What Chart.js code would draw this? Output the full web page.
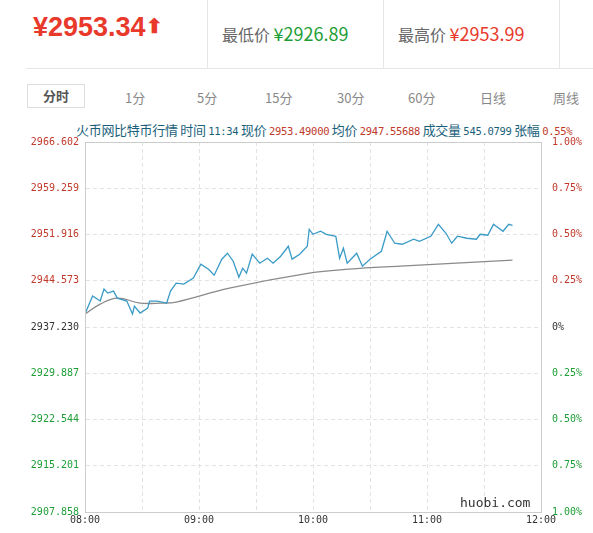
<!DOCTYPE html>
<html><head><meta charset="utf-8">
<script src="https://cdn.jsdelivr.net/npm/chart.js@4"></script>
<style>
body{margin:0;width:593px;height:533px;background:#fff;font-family:"Microsoft YaHei","Noto Sans CJK SC",sans-serif;position:relative;overflow:hidden}
.a{position:absolute;white-space:nowrap}
</style></head><body>
<div class="a" style="left:33px;top:12px;font-size:27px;font-weight:bold;color:#e8392b;font-family:Arial,'Liberation Sans',sans-serif">¥2953.34<span style="font-size:20px;position:relative;top:-3px">&#x2B06;</span></div>
<div class="a" style="left:207px;top:0;width:1px;height:68px;background:#e6e6e6"></div>
<div class="a" style="left:222px;top:20px;font-size:16px;color:#666">最低价 <span style="color:#1e9e36;font-size:18px">¥2926.89</span></div>
<div class="a" style="left:383px;top:0;width:1px;height:68px;background:#e6e6e6"></div>
<div class="a" style="left:398px;top:20px;font-size:16px;color:#666">最高价 <span style="color:#e8392b;font-size:18px">¥2953.99</span></div>
<div class="a" style="left:559px;top:0;width:1px;height:68px;background:#e6e6e6"></div>
<div class="a" style="left:26px;top:68px;width:567px;height:1px;background:#e6e6e6"></div>
<div class="a" style="left:27px;top:84px;width:56px;height:22px;border:1px solid #ddd;font-size:13px;font-weight:bold;color:#555;text-align:center;line-height:22px">分时</div>
<div class="a" style="left:125px;top:88px;font-size:13px;color:#888">1分</div>
<div class="a" style="left:197px;top:88px;font-size:13px;color:#888">5分</div>
<div class="a" style="left:265px;top:88px;font-size:13px;color:#888">15分</div>
<div class="a" style="left:337px;top:88px;font-size:13px;color:#888">30分</div>
<div class="a" style="left:408px;top:88px;font-size:13px;color:#888">60分</div>
<div class="a" style="left:480px;top:88px;font-size:13px;color:#888">日线</div>
<div class="a" style="left:553px;top:88px;font-size:13px;color:#888">周线</div>
<div class="a" style="left:76px;top:120px;font-size:13px;color:#1a5f7a;font-family:'Noto Sans CJK SC',sans-serif;letter-spacing:-0.3px">火币网比特币行情 时间 <span style="font-family:'DejaVu Sans Mono';font-size:10.5px">11:34</span> 现价 <span style="color:#c0392b;font-family:'DejaVu Sans Mono';font-size:10.5px">2953.49000</span> 均价 <span style="color:#c0392b;font-family:'DejaVu Sans Mono';font-size:10.5px">2947.55688</span> 成交量 <span style="font-family:'DejaVu Sans Mono';font-size:10.5px">545.0799</span> 张幅 <span style="color:#c0392b;font-family:'DejaVu Sans Mono';font-size:10.5px">0.55%</span></div>
<div class="a" style="left:0;top:130px;width:593px;height:398px"><canvas id="c"></canvas></div>
<div class="a" style="left:460px;top:495px;font-size:13px;color:#333;font-family:'DejaVu Sans Mono',monospace">huobi.com</div>
<script>
const priceMin=[0,4,8,10,12,15,17,22,25,26,29,33,34,38,43,45,48,52,57,61,65,68,72,75,78,81,83,85,88,92,96,99,103,107,109,113,117,118,120,124,127,132,134,136,138,143,146,150,156,159,163,167,173,176,182,186,190,193,196,201,206,208,212,215,220,223,225];
const priceVal=[2939.29,2942.14,2941.35,2943.25,2942.61,2942.93,2941.82,2941.35,2939.29,2940.55,2939.45,2940.24,2941.35,2941.35,2941.03,2942.93,2944.20,2944.04,2944.99,2947.20,2946.41,2945.46,2947.99,2948.94,2947.68,2945.15,2946.57,2945.78,2948.79,2947.36,2948.15,2947.36,2948.47,2950.05,2948.00,2948.79,2950.05,2952.74,2951.95,2952.43,2951.95,2951.64,2948.15,2949.74,2947.36,2948.94,2946.89,2947.99,2949.26,2952.43,2950.53,2950.37,2951.16,2950.84,2951.64,2953.53,2952.11,2950.53,2951.64,2951.32,2951.16,2951.95,2951.80,2953.53,2952.43,2953.53,2953.38];
const avgMin=[0,8,17,29,40,48,76,118,139,166,225];
const avgVal=[2939.29,2940.87,2941.82,2941.03,2941.03,2941.19,2943.40,2945.78,2946.41,2946.89,2947.84];
const leftTicks=[2907.858,2915.201,2922.544,2929.887,2937.230,2944.573,2951.916,2959.259,2966.602];
const rightTicks=["1.00%","0.75%","0.50%","0.25%","0%","0.25%","0.50%","0.75%","1.00%"];
const timeLabels=["08:00","09:00","10:00","11:00","12:00"];
const col=i=>i>4?'#c0392b':(i<4?'#1e9e36':'#333');
const yBase={min:2907.858,max:2966.602,afterBuildTicks:a=>{a.ticks=leftTicks.map(v=>({value:v}))},
 grid:{color:'#e3e3e3',tickLength:0,drawTicks:false},border:{display:true,color:'#999',dash:[4,3]}};
new Chart(document.getElementById('c'),{type:'line',
data:{datasets:[
{data:priceMin.map((m,i)=>({x:m,y:priceVal[i]})),borderColor:'#3a9bc7',borderWidth:1.3,pointRadius:0,tension:0},
{data:avgMin.map((m,i)=>({x:m,y:avgVal[i]})),borderColor:'#8a8a8a',borderWidth:1.3,pointRadius:0,tension:0.4}]},
options:{animation:false,responsive:true,maintainAspectRatio:false,layout:{padding:{top:10,right:0}},
plugins:{legend:{display:false},tooltip:{enabled:false}},
scales:{
x:{type:'linear',min:0,max:240,afterBuildTicks:a=>{a.ticks=[0,30,60,90,120,150,180,210,240].map(v=>({value:v}))},
 ticks:{maxRotation:0,autoSkip:false,padding:2,color:'#333',font:{family:'DejaVu Sans Mono',size:10},callback:v=>v%60===0?timeLabels[v/60]:''},
 grid:{color:'#e3e3e3',drawTicks:false},border:{display:true,color:'#ccc',dash:[4,3]}},
y:{...yBase,position:'left',afterFit:a=>{a.width=85},
 ticks:{padding:6,color:c=>col(c.index),font:{family:'DejaVu Sans Mono',size:10},callback:(v,i)=>leftTicks[i].toFixed(3)}},
y1:{...yBase,position:'right',afterFit:a=>{a.width=52},grid:{display:false},border:{display:true,color:'#999'},
 ticks:{padding:3,color:c=>col(c.index),font:{family:'DejaVu Sans Mono',size:10},callback:(v,i)=>rightTicks[8-i]}}
}},
plugins:[{id:'b',afterDraw(c){const a=c.chartArea,x=c.ctx;x.save();x.strokeStyle='#888';x.lineWidth=1;x.beginPath();x.moveTo(a.left+.5,a.top);x.lineTo(a.left+.5,a.bottom);x.stroke();x.strokeStyle='#ccc';x.strokeRect(a.left+.5,a.top+.5,a.right-a.left,a.bottom-a.top);x.restore();}}]
});
</script></body></html>
